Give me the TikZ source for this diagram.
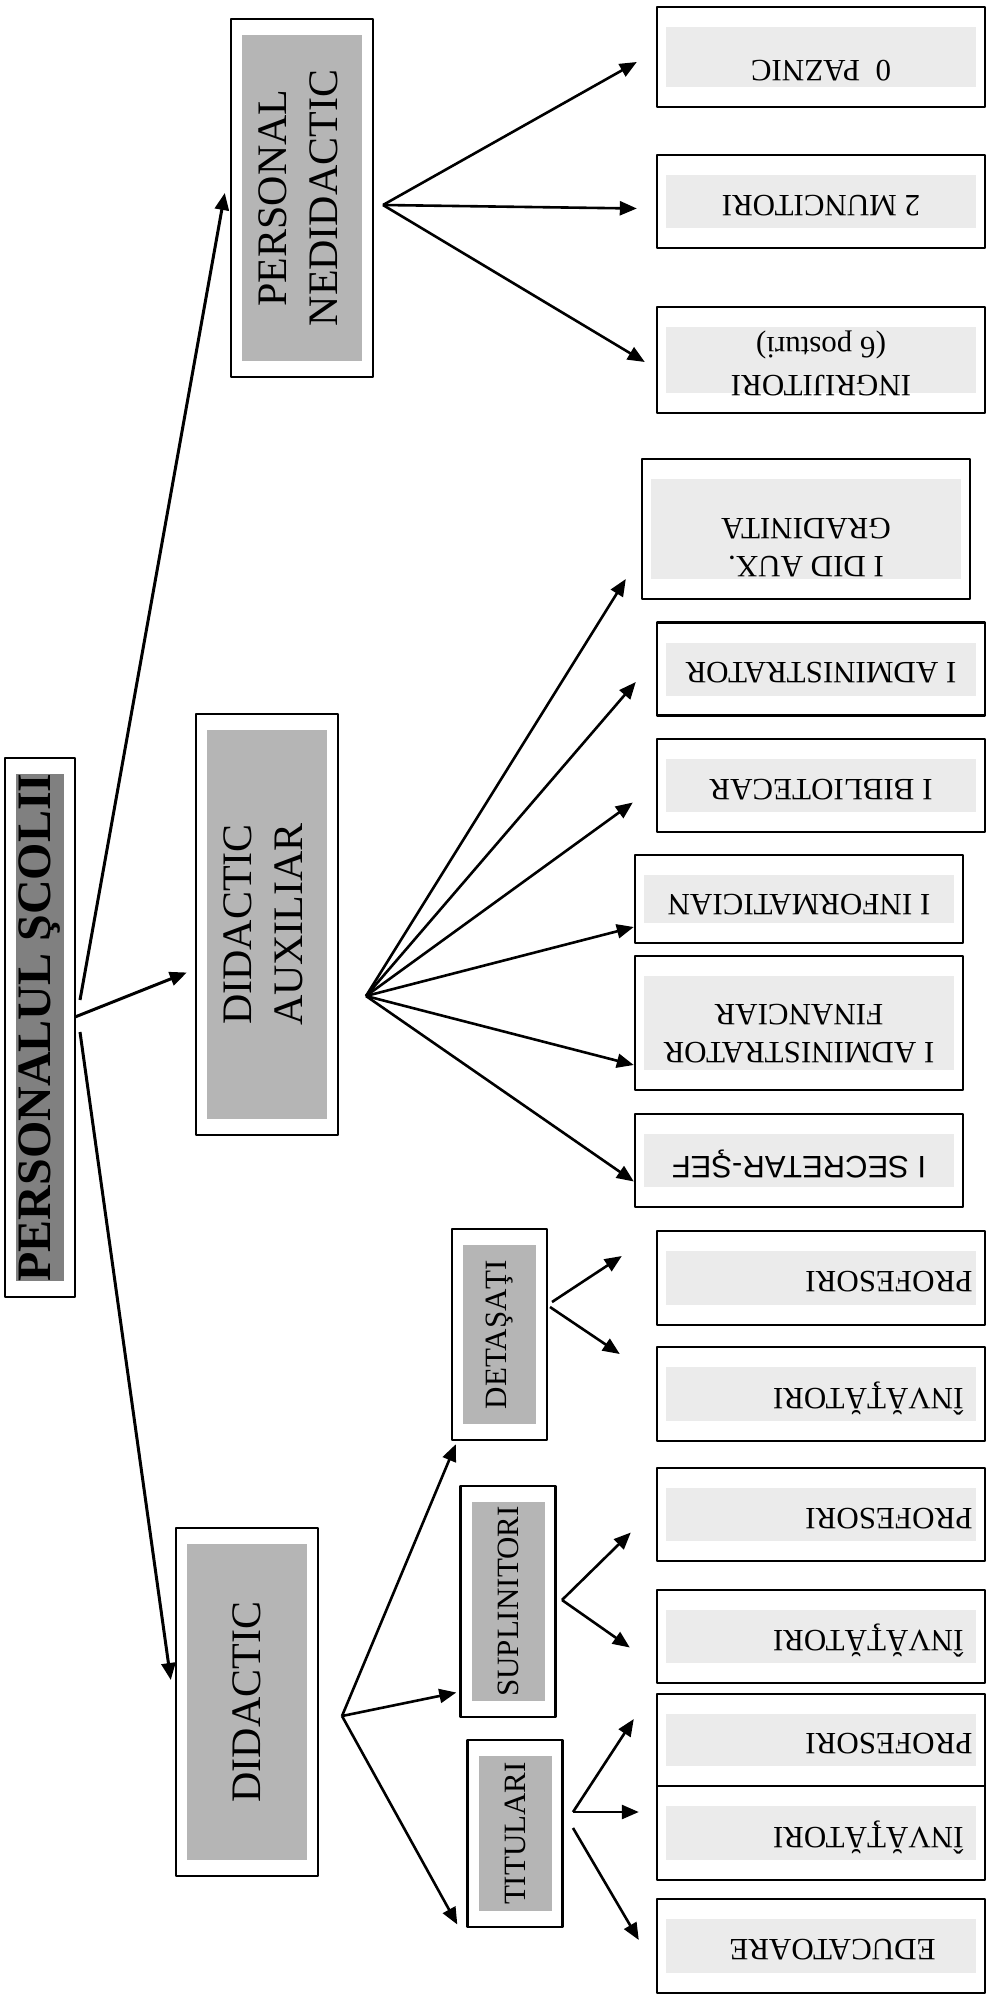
\documentclass[tikz,border=0pt]{standalone}
\usepackage{graphicx}
\usepackage{fontspec}
\setmainfont{Liberation Serif}
\newfontfamily\sansf{Liberation Sans}
\usetikzlibrary{arrows.meta}
\definecolor{rootgray}{gray}{0.5}
\definecolor{midgray}{gray}{0.71}
\definecolor{leafgray}{gray}{0.92}
\newcommand\upsd[2][2pt]{\rotatebox{180}{\raisebox{#1}[\height][\depth]{#2}}}
\tikzset{
  shadedbox/.style n args={3}{draw,line width=1.2pt,fill=white,inner sep=0pt,
    path picture={\fill[#1] ([shift={(#2,-#3)}]path picture bounding box.north west)
      rectangle ([shift={(-#2,#3)}]path picture bounding box.south east);}},
  rootbox/.style={shadedbox={rootgray}{5.5pt}{8pt},minimum width=35pt,
    font=\fontsize{24}{28}\selectfont\bfseries},
  mainbox/.style={shadedbox={midgray}{5.5pt}{8pt},minimum width=71pt,
    font=\fontsize{21}{25.5}\selectfont},
  subbox/.style={shadedbox={midgray}{5.5pt}{8pt},minimum width=47.5pt,
    font=\fontsize{15.5}{19}\selectfont},
  leaf/.style={shadedbox={leafgray}{4.5pt}{10pt},minimum width=164pt,
    font=\fontsize{15.5}{19}\selectfont},
  rjust/.style={text width=#1,align=right},
  conn/.style={line width=1.3pt,-{Triangle[length=8.5pt,width=7pt]}},
  rootconn/.style={conn,line width=1.5pt},
}
\begin{document}
\begin{tikzpicture}[x=0.5pt,y=-0.5pt,line join=round]
\useasboundingbox (0,0) rectangle (986,2000);
\node[rootbox,minimum height=269.5pt] (scoala) at (40,1027.5) {\rotatebox{90}{PERSONALUL ŞCOLII}};
\node[mainbox,minimum height=179pt] (nedid) at (302,198)
  {\rotatebox{90}{\begin{tabular}{@{}c@{}}PERSONAL\\NEDIDACTIC\end{tabular}}};
\node[mainbox,minimum height=210.5pt] (auxil) at (267,924.5)
  {\rotatebox{90}{\begin{tabular}{@{}c@{}}DIDACTIC\\AUXILIAR\end{tabular}}};
\node[mainbox,minimum height=174pt] (didac) at (247,1702) {\rotatebox{90}{DIDACTIC}};
\node[subbox,minimum height=105.5pt] (detas) at (499.5,1334.5) {\rotatebox{90}{DETAŞAŢI}};
\node[subbox,minimum height=115.5pt] (supli) at (508,1601.5) {\rotatebox{90}{SUPLINITORI}};
\node[subbox,minimum height=93.5pt] (titul) at (515,1833.5) {\rotatebox{90}{TITULARI}};

\node[leaf,minimum height=50pt] (paznic) at (821,57) {\upsd[7pt]{0\ \ PAZNIC}};
\node[leaf,minimum height=46.5pt] (munc) at (821,201.5) {\upsd{2 MUNCITORI}};
\node[leaf,minimum height=53pt] (ingr) at (821,360)
  {\upsd{\begin{tabular}{@{}c@{}}INGRIJITORI\\(6 posturi)\end{tabular}}};
\node[leaf,minimum height=70pt] (didaux) at (806,529)
  {\upsd[8pt]{\begin{tabular}{@{}c@{}}I DID AUX.\\GRADINITA\end{tabular}}};
\node[leaf,minimum height=46.5pt] (admin) at (821,669) {\upsd{I ADMINISTRATOR}};
\node[leaf,minimum height=46.5pt] (biblio) at (821,785.5) {\upsd{I BIBLIOTECAR}};
\node[leaf,minimum height=44pt] (inform) at (799,899) {\upsd[3pt]{I INFORMATICIAN}};
\node[leaf,minimum height=67pt] (finan) at (799,1023)
  {\upsd[4pt]{\begin{tabular}{@{}c@{}}I ADMINISTRATOR\\FINANCIAR\end{tabular}}};
\node[leaf,minimum height=46.5pt] (secret) at (799,1160.5) {\upsd{\sansf I SECRETAR-ŞEF}};
\node[leaf,rjust=151.5pt,minimum height=47pt] (profd) at (821,1278) {\upsd{PROFESORI}};
\node[leaf,rjust=142.5pt,minimum height=47pt] (invd) at (821,1394) {\upsd{ÎNVĂŢĂTORI}};
\node[leaf,rjust=151.5pt,minimum height=46.5pt] (profs) at (821,1514.5) {\upsd{PROFESORI}};
\node[leaf,rjust=142.5pt,minimum height=46.5pt] (invs) at (821,1636.5) {\upsd{ÎNVĂŢĂTORI}};
\node[leaf,rjust=151.5pt,minimum height=46pt] (proft) at (821,1740) {\upsd{PROFESORI}};
\node[leaf,rjust=142.5pt,minimum height=47pt] (invt) at (821,1833) {\upsd{ÎNVĂŢĂTORI}};
\node[leaf,rjust=114.5pt,minimum height=47pt] (educ) at (821,1946) {\upsd{EDUCATOARE}};

\coordinate (sc-up) at (80,1000);
\coordinate (sc-mid) at (75,1017);
\coordinate (sc-dn) at (80,1032);
\coordinate (ned-o) at (383,205);
\coordinate (aux-o) at (366,996);
\coordinate (did-o) at (342,1716);
\coordinate (det-o1) at (552,1302);
\coordinate (det-o2) at (550,1307);
\coordinate (sup-o) at (562,1600);
\coordinate (tit-o1) at (573,1812);
\coordinate (tit-o2) at (573,1828);

\draw[rootconn] (sc-up) -- ([shift={(-5,-5)}]nedid.west);
\draw[rootconn] (sc-mid) -- ([shift={(-8,48)}]auxil.west);
\draw[rootconn] (sc-dn) -- ([shift={(-4,-22)}]didac.west);

\draw[conn] (ned-o) -- ([shift={(-19,5)}]paznic.west);
\draw[conn] (ned-o) -- ([shift={(-19,7)}]munc.west);
\draw[conn] (ned-o) -- ([shift={(-11,2)}]ingr.west);

\draw[conn] (aux-o) -- ([shift={(-15,50)}]didaux.west);
\draw[conn] (aux-o) -- ([shift={(-20,13)}]admin.west);
\draw[conn] (aux-o) -- ([shift={(-23,17)}]biblio.west);
\draw[conn] (aux-o) -- ([shift={(0,28)}]inform.west);
\draw[conn] (aux-o) -- ([shift={(0,42)}]finan.west);
\draw[conn] (aux-o) -- ([shift={(0,21)}]secret.west);

\draw[conn] (did-o) -- ([shift={(5,3)}]detas.south west);
\draw[conn] (did-o) -- ([shift={(-3,91)}]supli.west);
\draw[conn] (did-o) -- ([shift={(-9,91)}]titul.west);

\draw[conn] (det-o1) -- ([shift={(-34,-22)}]profd.west);
\draw[conn] (det-o2) -- ([shift={(-36,-40)}]invd.west);
\draw[conn] (sup-o) -- ([shift={(-25,18)}]profs.west);
\draw[conn] (sup-o) -- ([shift={(-26,11)}]invs.west);
\draw[conn] (tit-o1) -- ([shift={(-22,-21)}]proft.west);
\draw[conn] (tit-o1) -- ([shift={(-17,-21)}]invt.west);
\draw[conn] (tit-o2) -- ([shift={(-17,-6)}]educ.west);
\end{tikzpicture}
\end{document}
